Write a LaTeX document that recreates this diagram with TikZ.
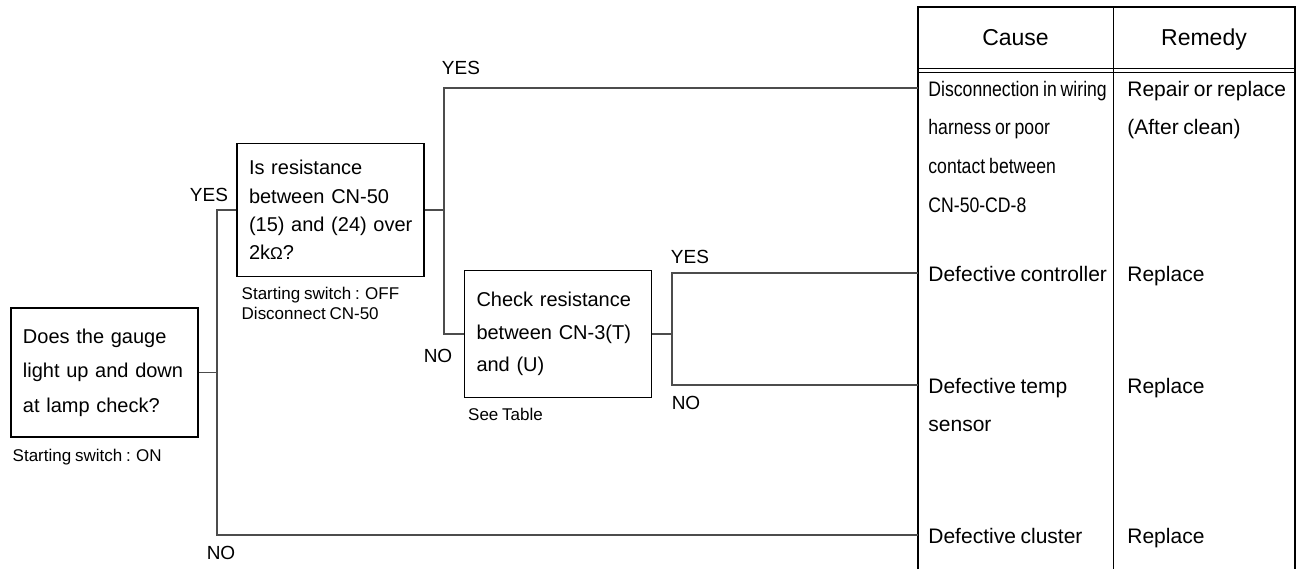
\documentclass[tikz,border=0pt]{standalone}
\usepackage{fontspec}
\setmainfont[WordSpace=0.8]{Liberation Sans}
\newfontfamily\narrowsf[FakeStretch=0.84,WordSpace=0.8]{Liberation Sans}
\usepackage{tikz}
\usetikzlibrary{positioning}

\begin{document}
\begin{tikzpicture}[x=0.5pt,y=-0.5pt,
    question/.style={draw,line width=0.7pt,align=left,inner xsep=6pt,
        text width=81.5pt,font=\fontsize{10}{#1}\selectfont},
    note/.style={inner sep=0pt,align=left,font=\fontsize{8.5}{10}\selectfont},
    answer/.style={inner sep=0pt,font=\fontsize{9.5}{11}\selectfont},
    cell/.style={inner sep=0pt,anchor=north west,align=left,
        font=\fontsize{10.5}{19.4}\selectfont},
    head/.style={inner sep=0pt,anchor=base,font=\fontsize{11.5}{13}\selectfont},
    link/.style={draw=black!70,line width=0.55pt},
    frame/.style={line width=0.9pt}]
    \useasboundingbox (0,0) rectangle (1302,569);

    % questions
    \node[question=17.25, minimum height=64.5pt] (gauge) at (104.5,372.5)
        {Does the gauge\\light up and down\\at lamp check?};
    \node[question=14.2, minimum height=66.5pt] (resist) at (330.5,210)
        {Is resistance\\between CN-50\\\mbox{(15) and (24) over}\\2k{\fontsize{8.5}{10}\selectfont Ω}?};
    \node[question=16.25, minimum height=63.5pt] (check) at (558,334)
        {Check resistance\\between CN-3(T)\\and (U)};

    \node[note, below right=5.5pt and 1pt of gauge.south west] (gaugenote)
        {Starting switch : ON};
    \node[note, below right=5pt and 2.5pt of resist.south west] (resistnote)
        {Starting switch : OFF\\Disconnect CN-50};
    \node[note, below right=5pt and 2pt of check.south west] (checknote)
        {See Table};

    % table
    \coordinate (tl) at (918,7);
    \coordinate (tm) at (1113,7);
    \coordinate (tr) at (1295,7);
    \draw[frame] (918,569) -- (tl) -- (tr) -- (1295,569);
    \draw[line width=0.5pt] (tm) -- (1113,569);
    \draw[line width=0.5pt] (918,68) -- (1295,68) (918,72.5) -- (1295,72.5);
    \node[head] (causehead) at (1015.5,45) {Cause};
    \node[head] (remedyhead) at (1204,45) {Remedy};

    \coordinate (row1) at (918,88);
    \coordinate (row2) at (918,273);
    \coordinate (row3) at (918,385);
    \coordinate (row4) at (918,535);

    \node[cell, font=\narrowsf\fontsize{10.5}{19.4}\selectfont] (cause1) at (928,80.5)
        {Disconnection in wiring\\harness or poor\\contact between\\CN-50-CD-8};
    \node[cell] (remedy1) at (1127,80.5) {Repair or replace\\(After clean)};
    \node[cell] (cause2) at (928,265.5) {Defective controller};
    \node[cell] (remedy2) at (1127,265.5) {Replace};
    \node[cell] (cause3) at (928,377.5) {Defective temp\\sensor};
    \node[cell] (remedy3) at (1127,377.5) {Replace};
    \node[cell] (cause4) at (928,527.5) {Defective cluster};
    \node[cell] (remedy4) at (1127,527.5) {Replace};

    % branches
    \coordinate (j1a) at (217,210);
    \coordinate (j1b) at (217,535);
    \coordinate (j2a) at (444,88);
    \coordinate (j2b) at (444,334);
    \coordinate (j3a) at (672,273);
    \coordinate (j3b) at (672,385);

    \draw[link] (gauge.east) -- (gauge.east -| j1a);
    \draw[link] (resist.west) -- (j1a) -- (j1b) -- (row4);
    \draw[link] (resist.east) -- (resist.east -| j2a);
    \draw[link] (row1) -- (j2a) -- (j2b) -- (check.west);
    \draw[link] (check.east) -- (check.east -| j3a);
    \draw[link] (row2) -- (j3a) -- (j3b) -- (row3);

    \node[answer] (yes1) at (209,195) {YES};
    \node[answer] (no1) at (221,553) {NO};
    \node[answer] (yes2) at (461,68) {YES};
    \node[answer] (no2) at (438,356) {NO};
    \node[answer] (yes3) at (690,257) {YES};
    \node[answer] (no3) at (686,403) {NO};
\end{tikzpicture}
\end{document}
